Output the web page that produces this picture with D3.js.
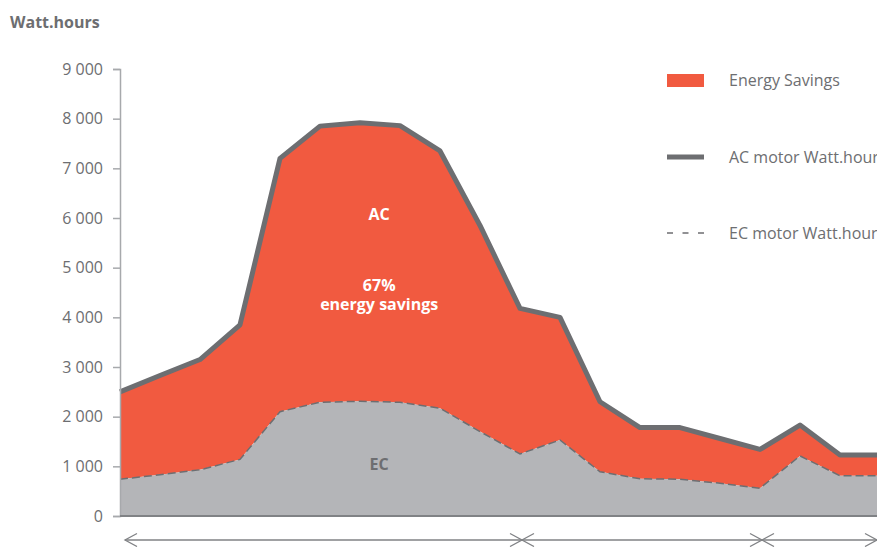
<!DOCTYPE html>
<html>
<head>
<meta charset="utf-8">
<script src="https://cdn.jsdelivr.net/npm/d3@7"></script>
<style>
  body { margin: 0; background: #fff; }
  svg { display: block; font-family: 'Open Sans', 'Noto Sans', sans-serif; }
</style>
</head>
<body>
<div id="chart"></div>
<script>
// readings, one per time step
const steps = d3.range(20);
const acValues = [2500, 2830, 3150, 3850, 7200, 7850, 7920, 7860, 7350, 5850,
  4180, 4000, 2300, 1780, 1780, 1560, 1340, 1830, 1230, 1230];
const ecValues = [740, 830, 930, 1140, 2100, 2290, 2310, 2290, 2170, 1700,
  1250, 1530, 890, 750, 740, 660, 560, 1210, 810, 810];
const yTicks = [0, 1000, 2000, 3000, 4000, 5000, 6000, 7000, 8000, 9000];
// index ranges covered by the double-headed arrows under the axis
const periods = [[0, 10], [10, 16], [16, 19]];
const legendItems = ['Energy Savings', 'AC motor Watt.hour', 'EC motor Watt.hour'];

const width = 877, height = 547;
const orange = '#f15a40', greyFill = '#b4b5b8', dark = '#6d6e71', axisGrey = '#a7a9ac';

const svg = d3.select('#chart').append('svg')
  .attr('width', width)
  .attr('height', height);

const x = d3.scaleLinear().domain([0, 19]).range([120, 880]);
const y = d3.scaleLinear().domain([0, 9000]).range([516, 69]);

const data = steps.map(i => ({ i, ac: acValues[i], ec: ecValues[i] }));

// savings band between EC and AC
svg.append('path')
  .datum(data)
  .attr('fill', orange)
  .attr('d', d3.area().x(d => x(d.i)).y0(d => y(d.ec)).y1(d => y(d.ac)));

// EC area
svg.append('path')
  .datum(data)
  .attr('fill', greyFill)
  .attr('d', d3.area().x(d => x(d.i)).y0(y(0)).y1(d => y(d.ec)));

svg.append('path')
  .datum(data)
  .attr('fill', 'none')
  .attr('stroke', dark)
  .attr('stroke-width', 1.5)
  .attr('stroke-dasharray', '8,4')
  .attr('d', d3.line().x(d => x(d.i)).y(d => y(d.ec)));

svg.append('path')
  .datum(data)
  .attr('fill', 'none')
  .attr('stroke', dark)
  .attr('stroke-width', 5)
  .attr('stroke-linejoin', 'round')
  .attr('d', d3.line().x(d => x(d.i)).y(d => y(d.ac)));

// y axis
const yAxis = svg.append('g')
  .attr('transform', 'translate(120,0)')
  .call(d3.axisLeft(y).tickValues(yTicks).tickSize(7).tickPadding(10)
    .tickFormat(d => d3.format(',')(d).replace(/,/g, ' ')));
yAxis.select('.domain').attr('stroke', axisGrey).attr('stroke-width', 1.5);
yAxis.selectAll('.tick line').attr('stroke', axisGrey).attr('stroke-width', 1.5);
yAxis.selectAll('.tick text')
  .attr('fill', dark)
  .style('font-size', '16px')
  .style('font-family', "'Open Sans', sans-serif");

// x baseline
svg.append('line')
  .attr('x1', x(0)).attr('x2', width)
  .attr('y1', y(0)).attr('y2', y(0))
  .attr('stroke', '#808285')
  .attr('stroke-width', 2);

// period arrows; neighbouring tips meet and form an X
const arrowY = 540;
const arrows = svg.append('g').attr('stroke', '#808285').attr('stroke-width', 1.3).attr('fill', 'none');
periods.forEach(([a, b], k) => {
  const x0 = k === 0 ? x(a) + 5 : x(a) + 2;
  const x1 = k === periods.length - 1 ? x(b) - 3 : x(b) + 2;
  arrows.append('line').attr('x1', x0).attr('x2', x1).attr('y1', arrowY).attr('y2', arrowY);
  arrows.append('path').attr('d', `M${x0 + 12},${arrowY - 6.5}L${x0},${arrowY}L${x0 + 12},${arrowY + 6.5}`);
  arrows.append('path').attr('d', `M${x1 - 12},${arrowY - 6.5}L${x1},${arrowY}L${x1 - 12},${arrowY + 6.5}`);
});

// title
svg.append('text')
  .attr('x', 10).attr('y', 28)
  .attr('fill', dark)
  .style('font-size', '16px')
  .style('font-weight', 'bold')
  .text('Watt.hours');

// in-chart labels
const labelX = x(6.48);
svg.append('text').attr('x', labelX).attr('y', 220).attr('text-anchor', 'middle')
  .attr('fill', '#fff').style('font-size', '16px').style('font-weight', 'bold').text('AC');
svg.append('text').attr('x', labelX).attr('y', 291).attr('text-anchor', 'middle')
  .attr('fill', '#fff').style('font-size', '16px').style('font-weight', 'bold').text('67%');
svg.append('text').attr('x', labelX).attr('y', 310).attr('text-anchor', 'middle')
  .attr('fill', '#fff').style('font-size', '16px').style('font-weight', 'bold').text('energy savings');
svg.append('text').attr('x', labelX).attr('y', 470).attr('text-anchor', 'middle')
  .attr('fill', dark).style('font-size', '16px').style('font-weight', 'bold').text('EC');

// legend
const legend = svg.append('g').attr('transform', 'translate(667,0)');
const legendY = [80, 157, 233];
legend.append('rect').attr('x', 0).attr('y', 74).attr('width', 37).attr('height', 13).attr('fill', orange);
legend.append('line').attr('x1', 0).attr('x2', 37).attr('y1', legendY[1]).attr('y2', legendY[1])
  .attr('stroke', dark).attr('stroke-width', 5);
legend.append('line').attr('x1', 0).attr('x2', 37).attr('y1', legendY[2]).attr('y2', legendY[2])
  .attr('stroke', dark).attr('stroke-width', 1.5).attr('stroke-dasharray', '6,9.5');
legend.selectAll('text.item')
  .data(legendItems)
  .join('text')
  .attr('class', 'item')
  .attr('x', 62)
  .attr('y', (d, i) => legendY[i] + 6)
  .attr('fill', dark)
  .style('font-size', '16px')
  .text(d => d);
</script>
</body>
</html>
